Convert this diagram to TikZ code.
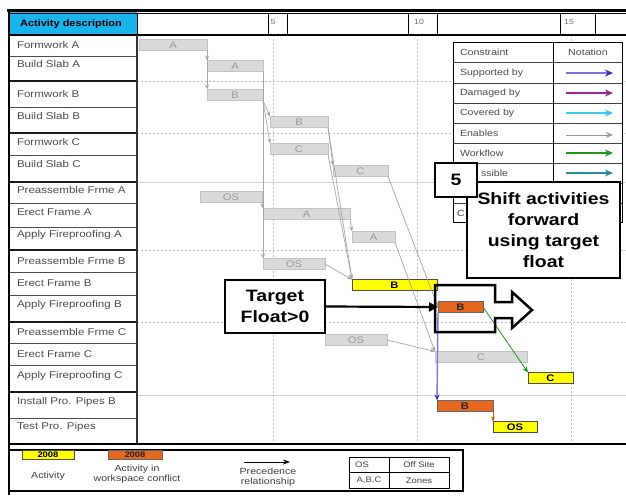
\documentclass[tikz,border=0pt]{standalone}
\usepackage{fontspec}
\setmainfont{Liberation Sans}[FakeStretch=1.18]
\usetikzlibrary{arrows.meta}
\definecolor{hdr}{RGB}{25,180,235}
\definecolor{gbarfill}{RGB}{218,218,218}
\definecolor{gbardraw}{RGB}{195,195,195}
\definecolor{ybarfill}{RGB}{255,255,0}
\definecolor{obarfill}{RGB}{230,104,30}
\definecolor{supp}{RGB}{50,50,190}
\definecolor{suppl}{RGB}{120,120,215}
\definecolor{damg}{RGB}{150,40,150}
\definecolor{covr}{RGB}{60,200,235}
\definecolor{enab}{RGB}{150,150,150}
\definecolor{wflow}{RGB}{30,150,30}
\definecolor{tealc}{RGB}{40,140,150}
\definecolor{brn}{RGB}{200,90,20}
\begin{document}
\begin{tikzpicture}[x=1pt,y=-1pt,
  every node/.style={inner sep=0pt,outer sep=0pt},
  rowlbl/.style={anchor=west,font=\fontsize{9.8}{11}\selectfont,text=black!70},
  gbar/.style={draw=gbardraw,fill=gbarfill,minimum height=11pt,anchor=west,font=\fontsize{9.5}{10}\selectfont,text=black!40},
  ybar/.style={gbar,draw=black!70,fill=ybarfill,text=black,font=\bfseries\fontsize{9.5}{10}\selectfont},
  obar/.style={gbar,draw=black!60,fill=obarfill,text=black!85,font=\bfseries\fontsize{9.5}{10}\selectfont},
  garrow/.style={draw=black!35,line width=0.7pt,-{Stealth[length=5pt,width=4pt]}},
  gridd/.style={draw=black!25,line width=0.5pt,dash pattern=on 2pt off 2pt},
  grids/.style={draw=black!18,line width=0.9pt},
  thinrow/.style={draw=black!70,line width=0.8pt},
  thickrow/.style={draw=black!90,line width=1.8pt},
  callout/.style={draw=black,line width=2.5pt,fill=white,font=\bfseries\fontsize{16.5}{21}\selectfont,align=center},
  tbltxt/.style={anchor=west,font=\fontsize{9}{10}\selectfont,text=black!70},
  legtxt/.style={font=\fontsize{9}{10.5}\selectfont,text=black!75,align=center},
  numtxt/.style={font=\fontsize{7.5}{8}\selectfont,text=black!55}
]
\useasboundingbox (0,0) rectangle (626,495);
\fill[white] (0,0) rectangle (626,495);

% ---------- grid lines ----------
\foreach \y in {81,133,250,322} \draw[gridd] (137,\y) -- (626,\y);
\foreach \y in {182,395} \draw[grids] (137,\y) -- (626,\y);
\foreach \x in {273,417,571} \draw[gridd] (\x,35) -- (\x,444);

% ---------- header ----------
\fill[hdr] (10,12) rectangle (137,35);
\node[font=\bfseries\fontsize{9.3}{11}\selectfont] (hd) at (71,24) {Activity description};
\draw[line width=0.8pt] (10,13) -- (626,13);
\foreach \x in {137,268,287,408,437,560,595} \draw[line width=0.8pt] (\x,13) -- (\x,35);
\node[numtxt] (h5) at (273,22) {5};
\node[numtxt] (h10) at (419,22) {10};
\node[numtxt] (h15) at (569,22) {15};

% ---------- left column ----------
\foreach \y in {56,107,155,203,227,272,295,343,365,418} \draw[thinrow] (10,\y) -- (137,\y);
\foreach \y in {81,133,182,250,322,392} \draw[thickrow] (10,\y) -- (137,\y);
\draw[line width=1.6pt] (9,35) -- (626,35);
\draw[line width=1.6pt,draw=black!80] (137,35) -- (137,444);

\node[rowlbl] (r1) at (17,45) {Formwork A};
\node[rowlbl] (r2) at (17,64) {Build Slab A};
\node[rowlbl] (r3) at (17,94) {Formwork B};
\node[rowlbl] (r4) at (17,116) {Build Slab B};
\node[rowlbl] (r5) at (17,142) {Formwork C};
\node[rowlbl] (r6) at (17,164) {Build Slab C};
\node[rowlbl] (r7) at (17,190) {Preassemble Frme A};
\node[rowlbl] (r8) at (17,212) {Erect Frame A};
\node[rowlbl] (r9) at (17,235) {Apply Fireproofing A};
\node[rowlbl] (r10) at (17,261) {Preassemble Frme B};
\node[rowlbl] (r11) at (17,283) {Erect Frame B};
\node[rowlbl] (r12) at (17,305) {Apply Fireproofing B};
\node[rowlbl] (r13) at (17,332) {Preassemble Frme C};
\node[rowlbl] (r14) at (17,354) {Erect Frame C};
\node[rowlbl] (r15) at (17,376) {Apply Fireproofing C};
\node[rowlbl] (r16) at (17,402) {Install Pro. Pipes B};
\node[rowlbl] (r17) at (17,427) {Test Pro. Pipes};

% ---------- bars ----------
\node[gbar,minimum width=68pt] (fa) at (139,45) {A};
\node[gbar,minimum width=56pt] (bsa) at (207,66) {A};
\node[gbar,minimum width=56pt] (fb) at (207,95) {B};
\node[gbar,minimum width=58pt] (bsb) at (270,122) {B};
\node[gbar,minimum width=58pt] (fc) at (270,149) {C};
\node[gbar,minimum width=55pt] (bsc) at (333,171) {C};
\node[gbar,minimum width=62pt] (pfa) at (200,197) {OS};
\node[gbar,minimum width=87pt] (efa) at (263,214) {A};
\node[gbar,minimum width=43pt] (afa) at (352,237) {A};
\node[gbar,minimum width=62pt] (pfb) at (263,264) {OS};
\node[gbar,minimum width=62pt] (pfc) at (325,340) {OS};
\node[gbar,minimum width=92pt] (efc) at (435,357) {C};
\node[ybar,minimum width=85pt] (efb) at (352,285) {B};
\node[obar,minimum width=45pt] (afb) at (438,307) {B};
\node[ybar,minimum width=45pt] (afc) at (528,378) {C};
\node[obar,minimum width=56pt] (ipb) at (437,406) {B};
\node[ybar,minimum width=44pt] (tpp) at (493,427) {OS};

% ---------- gray precedence arrows ----------
\draw[garrow] (fa.south east) -- (bsa.north west);
\draw[garrow] (fa.south east) -- (fb.north west);
\draw[garrow] (bsa.south east) -- (pfb.north west);
\draw[garrow] (fb.south east) -- (bsb.north west);
\draw[garrow] (fb.south east) -- (fc.north west);
\draw[garrow] (bsb.south east) -- (bsc.north west);
\draw[garrow] (bsb.south east) -- (efb.north west);
\draw[garrow] (fc.south east) -- (efb.north west);
\draw[garrow] (pfa.south east) -- (efa.north west);
\draw[garrow] (efa.south east) -- (afa.north west);
\draw[garrow] (pfb.east) -- (efb.north west);
\draw[garrow] (bsc.south east) -- (afb.west);
\draw[garrow] (afa.south east) -- (efc.north west);
\draw[garrow] (pfc.east) -- (efc.north west);

% ---------- coloured arrows ----------
\draw[wflow,line width=0.8pt,-{Stealth[length=6pt,width=5pt]}] (afb.east) -- (afc.north west);
\draw[suppl,line width=1.4pt,-{Stealth[length=6pt,width=5pt,color=supp]}] (afb.south west) -- (ipb.north west);
\draw[brn,line width=1pt,-{Stealth[length=5pt,width=4pt]}] (ipb.south east) -- (tpp.north west);

% ---------- constraint table ----------
\fill[white] (453,42) rectangle (622,222);
\draw[line width=0.9pt] (453,42) rectangle (622,222);
\foreach \y in {62,83,103,123,143,163,183,203} \draw[line width=0.8pt,draw=black!75] (453,\y) -- (622,\y);
\draw[line width=0.8pt] (553,42) -- (553,222);
\node[tbltxt] (c0) at (460,52) {Constraint};
\node[font=\fontsize{9}{10}\selectfont,text=black!70] (n0) at (588,52) {Notation};
\node[tbltxt] (c1) at (460,73) {Supported by};
\node[tbltxt] (c2) at (460,93) {Damaged by};
\node[tbltxt] (c3) at (460,113) {Covered by};
\node[tbltxt] (c4) at (460,133) {Enables};
\node[tbltxt] (c5) at (460,153) {Workflow};
\node[tbltxt] (c6) at (481,173) {ssible};
\node[tbltxt] (c8) at (457,213) {C};
\foreach \i/\y in {1/73,2/93,3/113,4/135,5/153,6/173} {
  \coordinate (la\i) at (566,\y);
  \coordinate (lb\i) at (613,\y);
}
\draw[suppl,line width=1.6pt,-{Stealth[length=8pt,width=7pt,color=supp]}] (la1) -- (lb1);
\draw[damg,line width=1.6pt,-{Stealth[length=8pt,width=7pt]}] (la2) -- (lb2);
\draw[covr,line width=1.6pt,-{Stealth[length=8pt,width=7pt]}] (la3) -- (lb3);
\draw[enab,line width=0.9pt,-{Stealth[length=7pt,width=6pt,open]}] (la4) -- (lb4);
\draw[wflow,line width=1.6pt,-{Stealth[length=8pt,width=7pt]}] (la5) -- (lb5);
\draw[tealc,line width=1.6pt,-{Stealth[length=8pt,width=7pt]}] (la6) -- (lb6);

% ---------- callouts ----------
\node[callout,minimum width=153pt,minimum height=96pt,anchor=north west] (shift) at (467,182) {Shift activities\\forward\\using target\\float};
\node[callout,minimum width=42pt,minimum height=34pt,anchor=north west] (five) at (435,163) {5};
\node[callout,minimum width=100pt,minimum height=53pt,anchor=north west] (tf) at (225,280) {Target\\Float>0};
\draw[line width=2.5pt,line join=miter] (435,285) -- (495,285) -- (495,302) -- (512,302) -- (512,292) -- (532,310) -- (512,328) -- (512,318) -- (495,318) -- (495,332) -- (435,332) -- cycle;
\draw[line width=2.2pt,-{Triangle[length=9pt,width=9pt]}] (tf.east) -- (afb.west);

% ---------- outer borders ----------
\draw[line width=2.5pt] (7,10.5) -- (626,10.5);
\draw[line width=2.5pt] (9,9) -- (9,495);
\draw[line width=2pt] (9,444) -- (626,444);

% ---------- bottom legend ----------
\draw[line width=1.5pt] (9,450) rectangle (463,491);
\node[ybar,minimum width=52pt,minimum height=9pt,font=\bfseries\fontsize{8}{9}\selectfont] (ly) at (22,455) {2008};
\node[legtxt] (lyt) at (48,476) {Activity};
\node[obar,minimum width=54pt,minimum height=9pt,font=\bfseries\fontsize{8}{9}\selectfont] (lo) at (108,455) {2008};
\node[legtxt] (lot) at (137,474) {Activity in\\workspace conflict};
\coordinate (pa) at (244,462);
\coordinate (pb) at (290,462);
\draw[line width=0.8pt,-{Stealth[length=7pt,width=5pt]}] (pa) -- (pb);
\node[legtxt] (pt) at (268,477) {Precedence\\relationship};
\draw[line width=0.8pt] (349,457) rectangle (449,488);
\draw[line width=0.8pt] (349,472.5) -- (449,472.5);
\draw[line width=0.8pt] (389,457) -- (389,488);
\node[legtxt,font=\fontsize{8}{9}\selectfont] (os) at (362,465) {OS};
\node[legtxt,font=\fontsize{8}{9}\selectfont] (ost) at (419,465) {Off Site};
\node[legtxt,font=\fontsize{8}{9}\selectfont] (zn) at (369,480.5) {A,B,C};
\node[legtxt,font=\fontsize{8}{9}\selectfont] (znt) at (419,480.5) {Zones};
\end{tikzpicture}
\end{document}
